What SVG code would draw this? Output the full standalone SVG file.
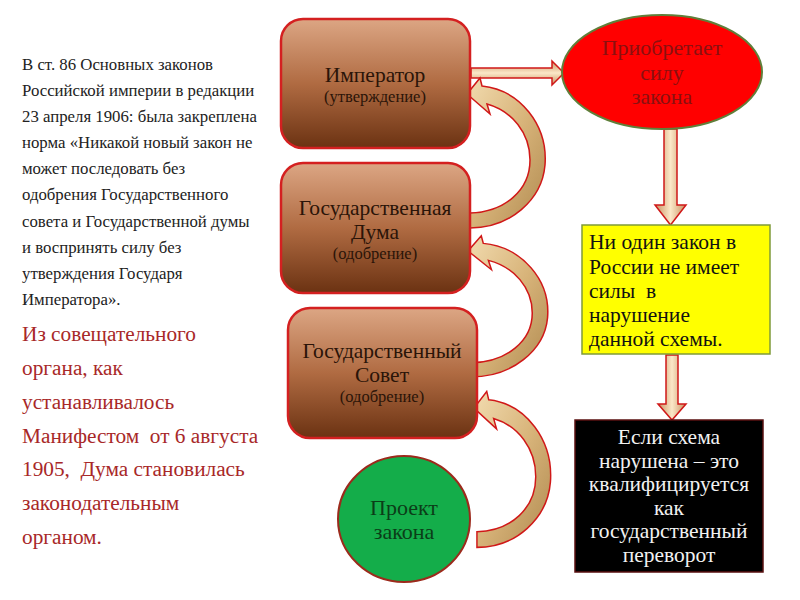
<svg xmlns="http://www.w3.org/2000/svg" width="800" height="600" viewBox="0 0 800 600">
<defs>
<linearGradient id="boxg" x1="0" y1="0" x2="0" y2="1">
<stop offset="0" stop-color="#dca684"/>
<stop offset="0.5" stop-color="#b06b42"/>
<stop offset="1" stop-color="#6b3212"/>
</linearGradient>
<linearGradient id="arrg" x1="0" y1="0" x2="1" y2="1">
<stop offset="0" stop-color="#f2dcb0"/>
<stop offset="0.5" stop-color="#d8b47a"/>
<stop offset="1" stop-color="#b08a50"/>
</linearGradient>
<linearGradient id="arrh" x1="0" y1="0" x2="0" y2="1">
<stop offset="0" stop-color="#c89060"/>
<stop offset="0.5" stop-color="#fbe8c8"/>
<stop offset="1" stop-color="#c89060"/>
</linearGradient>
<linearGradient id="arrv" x1="0" y1="0" x2="1" y2="0">
<stop offset="0" stop-color="#c89060"/>
<stop offset="0.5" stop-color="#fbe8c8"/>
<stop offset="1" stop-color="#c89060"/>
</linearGradient>
<path id="curve" d="M 15 -7 C 53 -3 81 32 78 72 C 75 107 43 135 3 135 L 3 120 C 38 119 63 97 63 67 C 63 40 45 18 20 11 L 23 21 L 0 1 L 13 -15 Z"/>
</defs>
<style>
text{font-family:'Liberation Serif','Times New Roman','DejaVu Serif',serif;white-space:pre}
.box{fill:url(#boxg);stroke:#d42020;stroke-width:2.5}
.bt{fill:#2a1408;text-anchor:middle}
.big{font-size:21.5px}
.sm{font-size:16.5px}
.arr{fill:url(#arrg);stroke:#d01818;stroke-width:1.5}
.lt{font-size:16.8px;fill:#222}
.rt{font-size:21.3px;fill:#a82828}
.yt{font-size:21.5px;fill:#111}
.wt{font-size:21.5px;fill:#f2f2f2;text-anchor:middle}
</style>
<rect width="800" height="600" fill="#ffffff"/>

<g id="left-text">
<text class="lt" x="22" y="70">В ст. 86 Основных законов</text>
<text class="lt" x="22" y="96">Российской империи в редакции</text>
<text class="lt" x="22" y="122">23 апреля 1906: была закреплена</text>
<text class="lt" x="22" y="148">норма «Никакой новый закон не</text>
<text class="lt" x="22" y="174">может последовать без</text>
<text class="lt" x="22" y="200">одобрения Государственного</text>
<text class="lt" x="22" y="227">совета и Государственной думы</text>
<text class="lt" x="22" y="253">и воспринять силу без</text>
<text class="lt" x="22" y="279">утверждения Государя</text>
<text class="lt" x="22" y="305">Императора».</text>
</g>
<g id="red-text">
<text class="rt" x="22" y="341">Из совещательного</text>
<text class="rt" x="22" y="375">органа, как</text>
<text class="rt" x="22" y="409">устанавливалось</text>
<text class="rt" x="22" y="443">Манифестом  от 6 августа</text>
<text class="rt" x="22" y="476">1905,  Дума становилась</text>
<text class="rt" x="22" y="510">законодательным</text>
<text class="rt" x="22" y="544">органом.</text>
</g>

<g id="connectors">
<polygon class="arr" style="fill:url(#arrh)" points="471,68 552,68 552,61 564,73 552,85 552,78 471,78"/>
<polygon class="arr" style="fill:url(#arrv)" points="664,129 677,129 677,205 686,205 670.5,225 655,205 664,205"/>
<polygon class="arr" style="fill:url(#arrv)" points="666,355 678,355 678,404 686,404 672,420 658,404 666,404"/>
<use href="#curve" class="arr" transform="translate(467,93)"/>
<use href="#curve" class="arr" transform="translate(468,250) scale(1.02,0.94)"/>
<use href="#curve" class="arr" transform="translate(474,407) scale(0.98,1.04)"/>
</g>

<g id="imperator">
<rect class="box" x="281" y="19" width="189" height="129" rx="22"/>
<text class="bt big" x="375" y="82">Император</text>
<text class="bt sm" x="375" y="102">(утверждение)</text>
</g>
<g id="duma">
<rect class="box" x="281" y="163" width="189" height="130" rx="22"/>
<text class="bt big" x="375" y="215">Государственная</text>
<text class="bt big" x="375" y="239">Дума</text>
<text class="bt sm" x="375" y="259">(одобрение)</text>
</g>
<g id="sovet">
<rect class="box" x="288" y="308" width="189" height="130" rx="22"/>
<text class="bt big" x="382" y="358">Государственный</text>
<text class="bt big" x="382" y="382">Совет</text>
<text class="bt sm" x="382" y="402">(одобрение)</text>
</g>
<g id="proekt">
<ellipse cx="404" cy="519" rx="66" ry="63" fill="#14ad4a" stroke="#9c2a1c" stroke-width="2"/>
<text class="bt" x="404" y="515" style="font-size:22px;fill:#0b3d18">Проект</text>
<text class="bt" x="404" y="539" style="font-size:22px;fill:#0b3d18">закона</text>
</g>
<g id="sila">
<ellipse cx="662" cy="72" rx="100" ry="57" fill="#ff0000" stroke="#5f7f3a" stroke-width="2"/>
<text class="bt" x="662" y="55" style="font-size:22px;fill:#8a1010">Приобретает</text>
<text class="bt" x="662" y="80" style="font-size:22px;fill:#8a1010">силу</text>
<text class="bt" x="662" y="104" style="font-size:22px;fill:#8a1010">закона</text>
</g>
<g id="rule">
<rect x="582" y="225" width="188" height="129" fill="#ffff00" stroke="#7f9a3a" stroke-width="1.5"/>
<text class="yt" x="589" y="249">Ни один закон в</text>
<text class="yt" x="589" y="274">России не имеет</text>
<text class="yt" x="589" y="298">силы  в</text>
<text class="yt" x="589" y="322">нарушение</text>
<text class="yt" x="589" y="346">данной схемы.</text>
</g>
<g id="perevorot">
<rect x="575" y="420" width="188" height="152" fill="#000000" stroke="#5a1010" stroke-width="1.5"/>
<text class="wt" x="669" y="444">Если схема</text>
<text class="wt" x="669" y="468">нарушена – это</text>
<text class="wt" x="669" y="491">квалифицируется</text>
<text class="wt" x="669" y="515">как</text>
<text class="wt" x="669" y="538">государственный</text>
<text class="wt" x="669" y="562">переворот</text>
</g>
</svg>
